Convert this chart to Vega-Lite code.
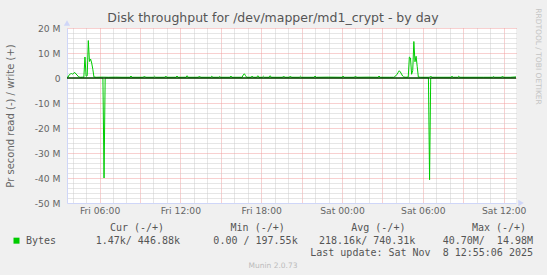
{
"$schema": "https://vega.github.io/schema/vega-lite/v6.json",
"width": 449,
"height": 175,
"autosize": "none",
"padding": {"left": 67, "top": 28, "right": 31, "bottom": 72},
"background": "#F0F0F0",
"title": {"text": "Disk throughput for /dev/mapper/md1_crypt - by day", "anchor": "middle", "frame": "group", "font": "DejaVu Sans", "fontSize": 12.5, "fontWeight": "normal", "color": "#555555", "dx": -18.5, "dy": 17, "offset": 0},
"config": {
  "view": {"fill": "#FFFFFF", "stroke": null},
  "font": "DejaVu Sans",
  "axis": {"labelFont": "DejaVu Sans", "titleFont": "DejaVu Sans", "labelColor": "#666666", "titleColor": "#666666", "titleFontWeight": "normal", "labelOverlap": false, "labelFlush": false, "labelBound": false}
},
"datasets": {
  "series": [
    {"t":"2025-11-07T03:35","dir":"r","v":0},
    {"t":"2025-11-07T06:15","dir":"r","v":0},
    {"t":"2025-11-07T06:20","dir":"r","v":-40000000},
    {"t":"2025-11-07T06:25","dir":"r","v":0},
    {"t":"2025-11-08T06:25","dir":"r","v":0},
    {"t":"2025-11-08T06:30","dir":"r","v":-40700000},
    {"t":"2025-11-08T06:35","dir":"r","v":0},
    {"t":"2025-11-08T12:55","dir":"r","v":-1470},
    {"t":"2025-11-07T03:35","dir":"w","v":300000},
    {"t":"2025-11-07T03:40","dir":"w","v":400000},
    {"t":"2025-11-07T03:45","dir":"w","v":1300000},
    {"t":"2025-11-07T03:50","dir":"w","v":1600000},
    {"t":"2025-11-07T03:55","dir":"w","v":1800000},
    {"t":"2025-11-07T04:00","dir":"w","v":1500000},
    {"t":"2025-11-07T04:05","dir":"w","v":2000000},
    {"t":"2025-11-07T04:10","dir":"w","v":2200000},
    {"t":"2025-11-07T04:15","dir":"w","v":1600000},
    {"t":"2025-11-07T04:20","dir":"w","v":1200000},
    {"t":"2025-11-07T04:25","dir":"w","v":600000},
    {"t":"2025-11-07T04:30","dir":"w","v":400000},
    {"t":"2025-11-07T04:35","dir":"w","v":300000},
    {"t":"2025-11-07T04:45","dir":"w","v":350000},
    {"t":"2025-11-07T04:50","dir":"w","v":300000},
    {"t":"2025-11-07T04:55","dir":"w","v":8400000},
    {"t":"2025-11-07T05:00","dir":"w","v":700000},
    {"t":"2025-11-07T05:05","dir":"w","v":900000},
    {"t":"2025-11-07T05:10","dir":"w","v":14980000},
    {"t":"2025-11-07T05:15","dir":"w","v":6600000},
    {"t":"2025-11-07T05:20","dir":"w","v":7600000},
    {"t":"2025-11-07T05:25","dir":"w","v":6000000},
    {"t":"2025-11-07T05:30","dir":"w","v":3500000},
    {"t":"2025-11-07T05:35","dir":"w","v":400000},
    {"t":"2025-11-07T05:45","dir":"w","v":300000},
    {"t":"2025-11-07T06:10","dir":"w","v":350000},
    {"t":"2025-11-07T06:40","dir":"w","v":300000},
    {"t":"2025-11-07T07:10","dir":"w","v":350000},
    {"t":"2025-11-07T07:40","dir":"w","v":300000},
    {"t":"2025-11-07T08:15","dir":"w","v":300000},
    {"t":"2025-11-07T08:20","dir":"w","v":800000},
    {"t":"2025-11-07T08:25","dir":"w","v":300000},
    {"t":"2025-11-07T09:15","dir":"w","v":300000},
    {"t":"2025-11-07T09:20","dir":"w","v":800000},
    {"t":"2025-11-07T09:25","dir":"w","v":300000},
    {"t":"2025-11-07T10:00","dir":"w","v":300000},
    {"t":"2025-11-07T10:05","dir":"w","v":700000},
    {"t":"2025-11-07T10:10","dir":"w","v":300000},
    {"t":"2025-11-07T10:50","dir":"w","v":300000},
    {"t":"2025-11-07T10:55","dir":"w","v":800000},
    {"t":"2025-11-07T11:00","dir":"w","v":300000},
    {"t":"2025-11-07T11:40","dir":"w","v":300000},
    {"t":"2025-11-07T11:45","dir":"w","v":800000},
    {"t":"2025-11-07T11:50","dir":"w","v":300000},
    {"t":"2025-11-07T12:25","dir":"w","v":300000},
    {"t":"2025-11-07T12:30","dir":"w","v":900000},
    {"t":"2025-11-07T12:35","dir":"w","v":300000},
    {"t":"2025-11-07T13:20","dir":"w","v":300000},
    {"t":"2025-11-07T13:25","dir":"w","v":800000},
    {"t":"2025-11-07T13:30","dir":"w","v":300000},
    {"t":"2025-11-07T14:15","dir":"w","v":300000},
    {"t":"2025-11-07T14:20","dir":"w","v":700000},
    {"t":"2025-11-07T14:25","dir":"w","v":300000},
    {"t":"2025-11-07T14:50","dir":"w","v":300000},
    {"t":"2025-11-07T14:55","dir":"w","v":600000},
    {"t":"2025-11-07T15:00","dir":"w","v":300000},
    {"t":"2025-11-07T15:40","dir":"w","v":300000},
    {"t":"2025-11-07T15:45","dir":"w","v":800000},
    {"t":"2025-11-07T15:50","dir":"w","v":300000},
    {"t":"2025-11-07T16:35","dir":"w","v":300000},
    {"t":"2025-11-07T16:40","dir":"w","v":1200000},
    {"t":"2025-11-07T16:45","dir":"w","v":1700000},
    {"t":"2025-11-07T16:50","dir":"w","v":1000000},
    {"t":"2025-11-07T16:55","dir":"w","v":300000},
    {"t":"2025-11-07T17:15","dir":"w","v":300000},
    {"t":"2025-11-07T17:20","dir":"w","v":800000},
    {"t":"2025-11-07T17:25","dir":"w","v":300000},
    {"t":"2025-11-07T17:40","dir":"w","v":300000},
    {"t":"2025-11-07T17:45","dir":"w","v":900000},
    {"t":"2025-11-07T17:50","dir":"w","v":300000},
    {"t":"2025-11-07T18:05","dir":"w","v":300000},
    {"t":"2025-11-07T18:10","dir":"w","v":700000},
    {"t":"2025-11-07T18:15","dir":"w","v":300000},
    {"t":"2025-11-07T18:35","dir":"w","v":300000},
    {"t":"2025-11-07T18:40","dir":"w","v":900000},
    {"t":"2025-11-07T18:45","dir":"w","v":300000},
    {"t":"2025-11-07T19:35","dir":"w","v":300000},
    {"t":"2025-11-07T19:40","dir":"w","v":800000},
    {"t":"2025-11-07T19:45","dir":"w","v":300000},
    {"t":"2025-11-07T20:05","dir":"w","v":300000},
    {"t":"2025-11-07T20:10","dir":"w","v":800000},
    {"t":"2025-11-07T20:15","dir":"w","v":300000},
    {"t":"2025-11-07T20:50","dir":"w","v":300000},
    {"t":"2025-11-07T20:55","dir":"w","v":700000},
    {"t":"2025-11-07T21:00","dir":"w","v":300000},
    {"t":"2025-11-07T21:55","dir":"w","v":300000},
    {"t":"2025-11-07T22:00","dir":"w","v":800000},
    {"t":"2025-11-07T22:05","dir":"w","v":300000},
    {"t":"2025-11-07T23:00","dir":"w","v":350000},
    {"t":"2025-11-08T00:00","dir":"w","v":300000},
    {"t":"2025-11-08T00:05","dir":"w","v":800000},
    {"t":"2025-11-08T00:10","dir":"w","v":300000},
    {"t":"2025-11-08T00:55","dir":"w","v":300000},
    {"t":"2025-11-08T01:00","dir":"w","v":800000},
    {"t":"2025-11-08T01:05","dir":"w","v":300000},
    {"t":"2025-11-08T02:00","dir":"w","v":350000},
    {"t":"2025-11-08T02:40","dir":"w","v":300000},
    {"t":"2025-11-08T02:45","dir":"w","v":800000},
    {"t":"2025-11-08T02:50","dir":"w","v":300000},
    {"t":"2025-11-08T03:30","dir":"w","v":300000},
    {"t":"2025-11-08T03:50","dir":"w","v":300000},
    {"t":"2025-11-08T03:55","dir":"w","v":600000},
    {"t":"2025-11-08T04:00","dir":"w","v":900000},
    {"t":"2025-11-08T04:05","dir":"w","v":1500000},
    {"t":"2025-11-08T04:10","dir":"w","v":2200000},
    {"t":"2025-11-08T04:15","dir":"w","v":2900000},
    {"t":"2025-11-08T04:20","dir":"w","v":2400000},
    {"t":"2025-11-08T04:25","dir":"w","v":1600000},
    {"t":"2025-11-08T04:30","dir":"w","v":800000},
    {"t":"2025-11-08T04:35","dir":"w","v":400000},
    {"t":"2025-11-08T04:45","dir":"w","v":300000},
    {"t":"2025-11-08T04:55","dir":"w","v":400000},
    {"t":"2025-11-08T05:00","dir":"w","v":8400000},
    {"t":"2025-11-08T05:05","dir":"w","v":8000000},
    {"t":"2025-11-08T05:10","dir":"w","v":1500000},
    {"t":"2025-11-08T05:15","dir":"w","v":3000000},
    {"t":"2025-11-08T05:20","dir":"w","v":14600000},
    {"t":"2025-11-08T05:25","dir":"w","v":6500000},
    {"t":"2025-11-08T05:30","dir":"w","v":8700000},
    {"t":"2025-11-08T05:35","dir":"w","v":4500000},
    {"t":"2025-11-08T05:40","dir":"w","v":400000},
    {"t":"2025-11-08T05:50","dir":"w","v":300000},
    {"t":"2025-11-08T06:30","dir":"w","v":300000},
    {"t":"2025-11-08T06:35","dir":"w","v":800000},
    {"t":"2025-11-08T06:40","dir":"w","v":300000},
    {"t":"2025-11-08T07:30","dir":"w","v":300000},
    {"t":"2025-11-08T08:05","dir":"w","v":300000},
    {"t":"2025-11-08T08:10","dir":"w","v":700000},
    {"t":"2025-11-08T08:15","dir":"w","v":300000},
    {"t":"2025-11-08T08:35","dir":"w","v":300000},
    {"t":"2025-11-08T08:40","dir":"w","v":700000},
    {"t":"2025-11-08T08:45","dir":"w","v":300000},
    {"t":"2025-11-08T09:30","dir":"w","v":300000},
    {"t":"2025-11-08T10:30","dir":"w","v":300000},
    {"t":"2025-11-08T11:10","dir":"w","v":300000},
    {"t":"2025-11-08T11:15","dir":"w","v":600000},
    {"t":"2025-11-08T11:20","dir":"w","v":300000},
    {"t":"2025-11-08T11:50","dir":"w","v":300000},
    {"t":"2025-11-08T11:55","dir":"w","v":800000},
    {"t":"2025-11-08T12:00","dir":"w","v":300000},
    {"t":"2025-11-08T12:30","dir":"w","v":300000},
    {"t":"2025-11-08T12:55","dir":"w","v":446880}
  ],
  "legend": [
    {"row":"head","col":"cur","text":"Cur (-/+)"},
    {"row":"head","col":"min","text":"Min (-/+)"},
    {"row":"head","col":"avg","text":"Avg (-/+)"},
    {"row":"head","col":"max","text":"Max (-/+)"},
    {"row":"vals","col":"cur","text":"1.47k/ 446.88k"},
    {"row":"vals","col":"min","text":"0.00 / 197.55k"},
    {"row":"vals","col":"avg","text":"218.16k/ 740.31k"},
    {"row":"vals","col":"max","text":"40.70M/\u00a0 14.98M"},
    {"row":"vals","col":"name","text":"Bytes"},
    {"row":"upd","col":"update","text":"Last update: Sat Nov\u00a0 8 12:55:06 2025"},
    {"row":"ver","col":"version","text":"Munin 2.0.73"}
  ]
},
"layer": [
  {
    "data": {"values": [{}]},
    "mark": {"type": "rule", "color": "#000000", "strokeWidth": 0},
    "encoding": {
      "x": {"datum": {"year":2025,"month":11,"date":7,"hours":3,"minutes":35}, "type": "temporal",
        "scale": {"domain": [{"year":2025,"month":11,"date":7,"hours":3,"minutes":35}, {"year":2025,"month":11,"date":8,"hours":12,"minutes":55}]},
        "axis": {"orient": "top", "title": null, "labels": false, "ticks": false, "domain": false, "grid": true, "gridDash": [1, 1],
          "gridColor": {"condition": {"test": "hours(datum.value) % 3 === 0", "value": "#F0A0A0"}, "value": "#CCCCCC"},
          "values": [
            {"year":2025,"month":11,"date":7,"hours":4},{"year":2025,"month":11,"date":7,"hours":5},{"year":2025,"month":11,"date":7,"hours":6},{"year":2025,"month":11,"date":7,"hours":7},
            {"year":2025,"month":11,"date":7,"hours":8},{"year":2025,"month":11,"date":7,"hours":9},{"year":2025,"month":11,"date":7,"hours":10},{"year":2025,"month":11,"date":7,"hours":11},
            {"year":2025,"month":11,"date":7,"hours":12},{"year":2025,"month":11,"date":7,"hours":13},{"year":2025,"month":11,"date":7,"hours":14},{"year":2025,"month":11,"date":7,"hours":15},
            {"year":2025,"month":11,"date":7,"hours":16},{"year":2025,"month":11,"date":7,"hours":17},{"year":2025,"month":11,"date":7,"hours":18},{"year":2025,"month":11,"date":7,"hours":19},
            {"year":2025,"month":11,"date":7,"hours":20},{"year":2025,"month":11,"date":7,"hours":21},{"year":2025,"month":11,"date":7,"hours":22},{"year":2025,"month":11,"date":7,"hours":23},
            {"year":2025,"month":11,"date":8,"hours":0},{"year":2025,"month":11,"date":8,"hours":1},{"year":2025,"month":11,"date":8,"hours":2},{"year":2025,"month":11,"date":8,"hours":3},
            {"year":2025,"month":11,"date":8,"hours":4},{"year":2025,"month":11,"date":8,"hours":5},{"year":2025,"month":11,"date":8,"hours":6},{"year":2025,"month":11,"date":8,"hours":7},
            {"year":2025,"month":11,"date":8,"hours":8},{"year":2025,"month":11,"date":8,"hours":9},{"year":2025,"month":11,"date":8,"hours":10},{"year":2025,"month":11,"date":8,"hours":11},
            {"year":2025,"month":11,"date":8,"hours":12}
          ]}},
      "y": {"datum": 0, "type": "quantitative",
        "scale": {"domain": [-50000000, 20000000], "nice": false, "zero": false},
        "axis": {"orient": "right", "labels": false, "ticks": false, "domain": false, "grid": true, "gridDash": [1, 1],
          "gridColor": {"condition": {"test": "datum.value % 10000000 === 0", "value": "#F0A0A0"}, "value": "#CCCCCC"},
          "values": [-48000000,-46000000,-44000000,-42000000,-40000000,-38000000,-36000000,-34000000,-32000000,-30000000,-28000000,-26000000,-24000000,-22000000,-20000000,-18000000,-16000000,-14000000,-12000000,-10000000,-8000000,-6000000,-4000000,-2000000,0,2000000,4000000,6000000,8000000,10000000,12000000,14000000,16000000,18000000,20000000],
          "title": "RRDTOOL / TOBI OETIKER", "titleAngle": 90, "titleX": 21.7, "titleY": 28, "titleAlign": "center", "titleBaseline": "middle", "titleFontSize": 7.5, "titleColor": "#C4C4C4", "titleFont": "DejaVu Sans"}}
    }
  },
  {
    "data": {"name": "series"},
    "mark": {"type": "line", "color": "#00CC00", "strokeWidth": 1},
    "encoding": {
      "x": {"field": "t", "type": "temporal",
        "scale": {"domain": [{"year":2025,"month":11,"date":7,"hours":3,"minutes":35}, {"year":2025,"month":11,"date":8,"hours":12,"minutes":55}]},
        "axis": {"title": null, "ticks": false, "grid": false, "domainColor": "#CFD6F8", "domainWidth": 1,
          "labelFontSize": 9.2, "labelPadding": 3, "labelFlush": false, "labelOverlap": false,
          "format": "%a %H:%M",
          "values": [
            {"year":2025,"month":11,"date":7,"hours":6},{"year":2025,"month":11,"date":7,"hours":12},{"year":2025,"month":11,"date":7,"hours":18},
            {"year":2025,"month":11,"date":8,"hours":0},{"year":2025,"month":11,"date":8,"hours":6},{"year":2025,"month":11,"date":8,"hours":12}
          ]}},
      "y": {"field": "v", "type": "quantitative",
        "scale": {"domain": [-50000000, 20000000], "nice": false, "zero": false},
        "axis": {"title": "Pr second read (-) / write (+)", "titleFontSize": 10, "titleX": -57, "titleY": 87.5, "titleAlign": "center", "titleBaseline": "middle", "titleAngle": 270,
          "ticks": false, "grid": false, "domainColor": "#CFD6F8", "labelFontSize": 9.2, "labelPadding": 7, "labelOverlap": false,
          "labelExpr": "datum.value === 0 ? '0' : (datum.value / 1000000) + ' M'",
          "values": [-50000000,-40000000,-30000000,-20000000,-10000000,0,10000000,20000000]}},
      "detail": {"field": "dir", "type": "nominal"}
    }
  },
  {
    "data": {"values": [{}]},
    "mark": {"type": "rule", "color": "#000000", "strokeWidth": 1},
    "encoding": {
      "x": {"datum": {"year":2025,"month":11,"date":7,"hours":3,"minutes":35}, "type": "temporal",
        "scale": {"domain": [{"year":2025,"month":11,"date":7,"hours":3,"minutes":35}, {"year":2025,"month":11,"date":8,"hours":12,"minutes":55}]}, "axis": null},
      "x2": {"datum": {"year":2025,"month":11,"date":8,"hours":12,"minutes":55}},
      "y": {"datum": 0, "type": "quantitative", "scale": {"domain": [-50000000, 20000000], "nice": false, "zero": false}, "axis": null}
    }
  },
  {
    "data": {"values": [{}]},
    "mark": {"type": "point", "shape": "triangle-up", "filled": true, "color": "#CFD6F8", "opacity": 1, "size": 40, "yOffset": -5},
    "encoding": {
      "x": {"datum": {"year":2025,"month":11,"date":7,"hours":3,"minutes":35}, "type": "temporal",
        "scale": {"domain": [{"year":2025,"month":11,"date":7,"hours":3,"minutes":35}, {"year":2025,"month":11,"date":8,"hours":12,"minutes":55}]}, "axis": null},
      "y": {"datum": 20000000, "type": "quantitative", "scale": {"domain": [-50000000, 20000000], "nice": false, "zero": false}, "axis": null}
    }
  },
  {
    "data": {"values": [{}]},
    "mark": {"type": "point", "shape": "triangle-right", "filled": true, "color": "#CFD6F8", "opacity": 1, "size": 40, "xOffset": 5},
    "encoding": {
      "x": {"datum": {"year":2025,"month":11,"date":8,"hours":12,"minutes":55}, "type": "temporal",
        "scale": {"domain": [{"year":2025,"month":11,"date":7,"hours":3,"minutes":35}, {"year":2025,"month":11,"date":8,"hours":12,"minutes":55}]}, "axis": null},
      "y": {"datum": -50000000, "type": "quantitative", "scale": {"domain": [-50000000, 20000000], "nice": false, "zero": false}, "axis": null}
    }
  },
  {
    "data": {"name": "legend"},
    "transform": [{"filter": "datum.row === 'head'"}],
    "mark": {"type": "text", "font": "DejaVu Sans Mono", "fontSize": 10, "color": "#555555", "align": "center", "baseline": "middle"},
    "encoding": {
      "x": {"field": "col", "type": "nominal", "scale": {"type": "point", "domain": ["cur","min","avg","max"], "range": [70, 432], "padding": 0}, "axis": null},
      "y": {"field": "row", "type": "nominal", "scale": {"type": "point", "domain": ["head","vals","upd","ver"], "range": [200, 238], "padding": 0}, "axis": null},
      "text": {"field": "text"}
    }
  },
  {
    "data": {"name": "legend"},
    "transform": [{"filter": "datum.row === 'vals' && datum.col !== 'name'"}],
    "mark": {"type": "text", "font": "DejaVu Sans Mono", "fontSize": 10, "color": "#555555", "align": "right", "baseline": "middle"},
    "encoding": {
      "x": {"field": "col", "type": "nominal", "scale": {"type": "point", "domain": ["cur","min","avg","max"], "range": [113, 466], "padding": 0}, "axis": null},
      "y": {"field": "row", "type": "nominal", "scale": {"type": "point", "domain": ["head","vals","upd","ver"], "range": [200, 238], "padding": 0}, "axis": null},
      "text": {"field": "text"}
    }
  },
  {
    "data": {"name": "legend"},
    "transform": [{"filter": "datum.col === 'name'"}],
    "mark": {"type": "text", "font": "DejaVu Sans Mono", "fontSize": 10, "color": "#555555", "align": "left", "baseline": "middle"},
    "encoding": {
      "x": {"field": "col", "type": "nominal", "scale": {"type": "point", "domain": ["name"], "range": [-41, -41], "padding": 0}, "axis": null},
      "y": {"field": "row", "type": "nominal", "scale": {"type": "point", "domain": ["head","vals","upd","ver"], "range": [200, 238], "padding": 0}, "axis": null},
      "text": {"field": "text"}
    }
  },
  {
    "data": {"name": "legend"},
    "transform": [{"filter": "datum.col === 'name'"}],
    "mark": {"type": "square", "filled": true, "color": "#00CC00", "opacity": 1, "size": 36},
    "encoding": {
      "x": {"field": "col", "type": "nominal", "scale": {"type": "point", "domain": ["name"], "range": [-50.5, -50.5], "padding": 0}, "axis": null},
      "y": {"field": "row", "type": "nominal", "scale": {"type": "point", "domain": ["head","vals","upd","ver"], "range": [200, 238], "padding": 0}, "axis": null}
    }
  },
  {
    "data": {"name": "legend"},
    "transform": [{"filter": "datum.row === 'upd'"}],
    "mark": {"type": "text", "font": "DejaVu Sans Mono", "fontSize": 10, "color": "#555555", "align": "right", "baseline": "middle"},
    "encoding": {
      "x": {"field": "col", "type": "nominal", "scale": {"type": "point", "domain": ["update"], "range": [466, 466], "padding": 0}, "axis": null},
      "y": {"field": "row", "type": "nominal", "scale": {"type": "point", "domain": ["head","vals","upd","ver"], "range": [200, 238], "padding": 0}, "axis": null},
      "text": {"field": "text"}
    }
  },
  {
    "data": {"name": "legend"},
    "transform": [{"filter": "datum.row === 'ver'"}],
    "mark": {"type": "text", "font": "DejaVu Sans", "fontSize": 7.5, "color": "#BBBBBB", "align": "center", "baseline": "middle"},
    "encoding": {
      "x": {"field": "col", "type": "nominal", "scale": {"type": "point", "domain": ["version"], "range": [206, 206], "padding": 0}, "axis": null},
      "y": {"field": "row", "type": "nominal", "scale": {"type": "point", "domain": ["head","vals","upd","ver"], "range": [200, 238], "padding": 0}, "axis": null},
      "text": {"field": "text"}
    }
  }
],
"resolve": {"scale": {"x": "independent", "y": "independent"}}
}
